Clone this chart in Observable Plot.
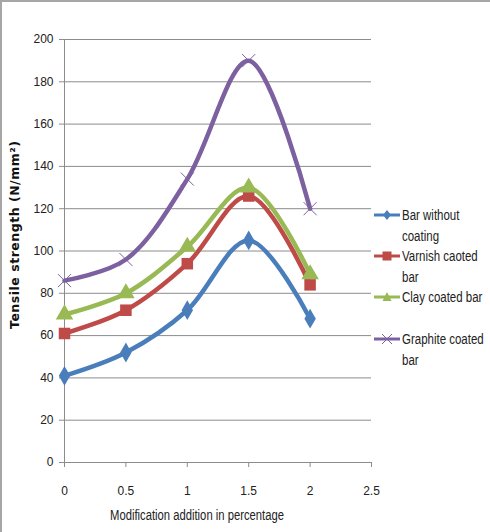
<!DOCTYPE html>
<html>
<head>
<meta charset="utf-8">
<script src="https://cdn.jsdelivr.net/npm/d3@7"></script>
<script src="https://cdn.jsdelivr.net/npm/@observablehq/plot@0.6"></script>
<style>
  html, body { margin: 0; padding: 0; background: #fff; }
  #wrap { position: relative; width: 490px; height: 532px; overflow: hidden;
          font-family: "Liberation Sans", Arial, sans-serif; }
  #bt { position: absolute; left: 0; top: 0; width: 490px; height: 2px; background: #a6a6a6; }
  #bl { position: absolute; left: 0; top: 0; width: 2px; height: 532px; background: #a6a6a6; }
  #legend { position: absolute; left: 374px; top: 205px; font-size: 14px; color: #222; }
  .item { position: absolute; left: 0; width: 116px; display: flex; align-items: flex-start; }
  .item svg { flex: none; }
  .item span { line-height: 21px; margin-left: 2px; white-space: nowrap; transform: scaleX(0.82); transform-origin: left top; }
</style>
</head>
<body>
<div id="wrap">
  <div id="chart"></div>
  <div id="bt"></div>
  <div id="bl"></div>
  <div id="legend"></div>
</div>
<script>
const xs = [0, 0.5, 1, 1.5, 2];
const seriesNames = ["Bar without coating", "Varnish caoted bar", "Clay coated bar", "Graphite coated bar"];
const legendLines = [["Bar without", "coating"], ["Varnish caoted", "bar"], ["Clay coated bar"], ["Graphite coated", "bar"]];
const barWithout = [41, 52, 72, 105, 68];
const varnish = [61, 72, 94, 126, 84];
const clay = [70, 80, 102, 130, 89];
const graphite = [86, 96, 134, 190, 120];
const colors = ["#4a7ebb", "#be4b48", "#98b954", "#7d60a0"];
const symbols = ["diamond", "square", "triangle", "times"];
const xTicks = [0, 0.5, 1, 1.5, 2, 2.5];
const yTicks = [0, 20, 40, 60, 80, 100, 120, 140, 160, 180, 200];

const allSeries = [barWithout, varnish, clay, graphite];
const rows = [];
allSeries.forEach((vals, si) => vals.forEach((v, i) => rows.push({x: xs[i], y: v, s: seriesNames[si]})));

const font = '"Liberation Sans", Arial, sans-serif';
const marks = [
  Plot.gridY(yTicks, {stroke: "#8c8c8c", strokeOpacity: 1, x1: 0, x2: 2.5}),
  Plot.ruleX([0], {stroke: "#8c8c8c"}),
  Plot.ruleY([0], {stroke: "#8c8c8c"}),
  Plot.axisY(yTicks, {tickSize: 5, tickPadding: 6, stroke: "#8c8c8c", fontSize: 12, label: null, fill: "#222", tickFormat: d => String(d)}),
  Plot.axisX(xTicks, {tickSize: 5, tickPadding: 19, stroke: "#8c8c8c", fontSize: 12, label: null, fill: "#222", tickFormat: d => String(d)}),
];
seriesNames.forEach((name, si) => {
  const d = rows.filter(r => r.s === name);
  marks.push(Plot.line(d, {x: "x", y: "y", stroke: colors[si], strokeWidth: 4.5, curve: "catmull-rom"}));
});
seriesNames.forEach((name, si) => {
  const d = rows.filter(r => r.s === name);
  if (symbols[si] === "times") {
    marks.push(Plot.dot(d, {x: "x", y: "y", symbol: "times", r: 6, stroke: colors[si], strokeWidth: 1}));
  } else {
    const r = symbols[si] === "square" ? 6.5 : symbols[si] === "triangle" ? 6.5 : 6;
    marks.push(Plot.dot(d, {x: "x", y: "y", symbol: symbols[si], r, fill: colors[si], stroke: "none"}));
  }
});
marks.push(Plot.text(["Tensile strength (N/mm²)"], {frameAnchor: "left", textAnchor: "middle", rotate: -90, dx: -50, dy: -16, fontWeight: "bold", fontSize: 12.5, fill: "#111", fontFamily: "DejaVu Sans"}));
marks.push(Plot.text(["Modification addition in percentage"], {frameAnchor: "bottom", dy: 57, dx: -21, fontSize: 14, fill: "#222"}));

const chart = Plot.plot({
  width: 490,
  height: 532,
  marginLeft: 64,
  marginRight: 119,
  marginTop: 39,
  marginBottom: 70,
  style: {fontFamily: font, background: "transparent"},
  x: {domain: [0, 2.5]},
  y: {domain: [0, 200]},
  marks
});
// fit title lengths to the reference's narrow type
d3.select(chart).selectAll("text").each(function() {
  const t = this.textContent;
  if (t === "Tensile strength (N/mm²)") { this.setAttribute("textLength", 188); this.setAttribute("lengthAdjust", "spacing"); }
  if (t === "Modification addition in percentage") { this.setAttribute("textLength", 174); this.setAttribute("lengthAdjust", "spacingAndGlyphs"); }
});
document.getElementById("chart").appendChild(chart);

// Legend (HTML)
const legendTops = [0, 41, 82, 124];
const legend = document.getElementById("legend");
seriesNames.forEach((name, si) => {
  const item = document.createElement("div");
  item.className = "item";
  item.style.top = legendTops[si] + "px";
  let sym = "";
  const c = colors[si];
  if (symbols[si] === "diamond") sym = `<path d="M13,5 L17,10 L13,15 L9,10Z" fill="${c}"/>`;
  if (symbols[si] === "square") sym = `<rect x="8.5" y="5.5" width="9" height="9" fill="${c}"/>`;
  if (symbols[si] === "triangle") sym = `<path d="M13,5 L17.5,14 L8.5,14Z" fill="${c}"/>`;
  if (symbols[si] === "times") sym = `<path d="M8,5 L18,15 M18,5 L8,15" stroke="${c}" stroke-width="1"/>`;
  item.innerHTML = `<svg width="26" height="20"><line x1="0" x2="26" y1="10" y2="10" stroke="${c}" stroke-width="3"/>${sym}</svg><span>${legendLines[si].join("<br>")}</span>`;
  legend.appendChild(item);
});
</script>
</body>
</html>
